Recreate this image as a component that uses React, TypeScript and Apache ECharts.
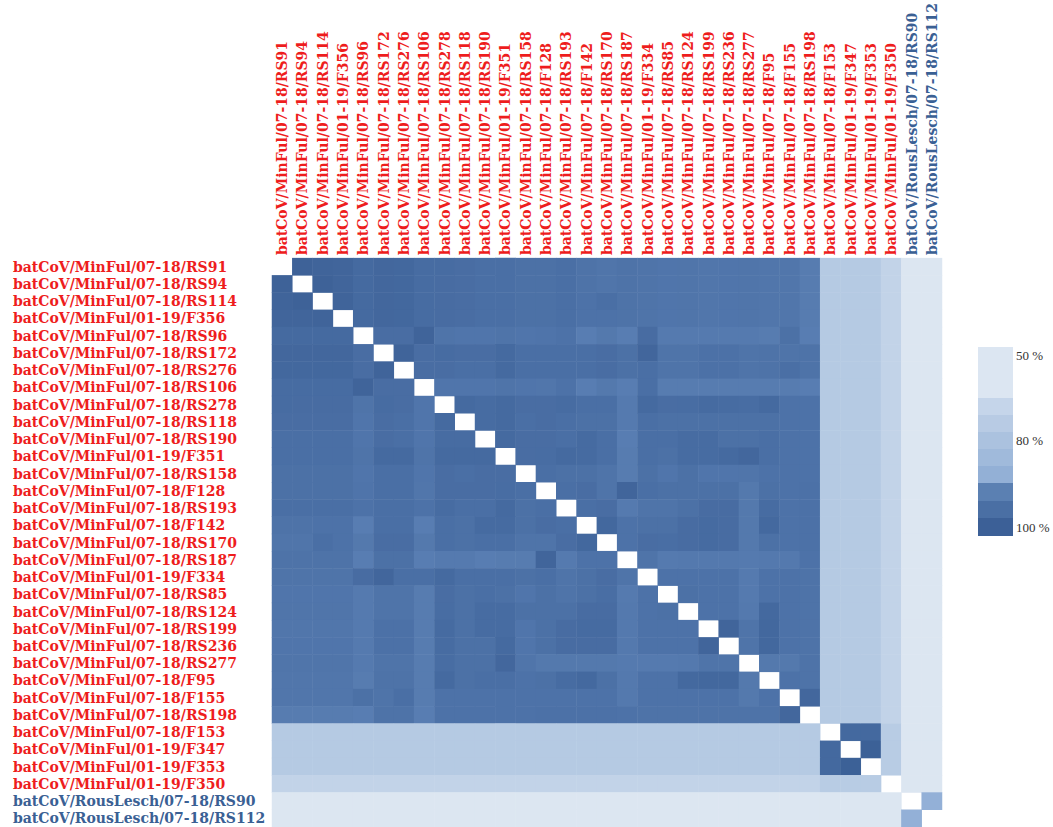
import React, { useEffect, useRef } from "react";
import * as echarts from "echarts";

const categories: string[] = [
  "batCoV/MinFul/07-18/RS91",
  "batCoV/MinFul/07-18/RS94",
  "batCoV/MinFul/07-18/RS114",
  "batCoV/MinFul/01-19/F356",
  "batCoV/MinFul/07-18/RS96",
  "batCoV/MinFul/07-18/RS172",
  "batCoV/MinFul/07-18/RS276",
  "batCoV/MinFul/07-18/RS106",
  "batCoV/MinFul/07-18/RS278",
  "batCoV/MinFul/07-18/RS118",
  "batCoV/MinFul/07-18/RS190",
  "batCoV/MinFul/01-19/F351",
  "batCoV/MinFul/07-18/RS158",
  "batCoV/MinFul/07-18/F128",
  "batCoV/MinFul/07-18/RS193",
  "batCoV/MinFul/07-18/F142",
  "batCoV/MinFul/07-18/RS170",
  "batCoV/MinFul/07-18/RS187",
  "batCoV/MinFul/01-19/F334",
  "batCoV/MinFul/07-18/RS85",
  "batCoV/MinFul/07-18/RS124",
  "batCoV/MinFul/07-18/RS199",
  "batCoV/MinFul/07-18/RS236",
  "batCoV/MinFul/07-18/RS277",
  "batCoV/MinFul/07-18/F95",
  "batCoV/MinFul/07-18/F155",
  "batCoV/MinFul/07-18/RS198",
  "batCoV/MinFul/07-18/F153",
  "batCoV/MinFul/01-19/F347",
  "batCoV/MinFul/01-19/F353",
  "batCoV/MinFul/01-19/F350",
  "batCoV/RousLesch/07-18/RS90",
  "batCoV/RousLesch/07-18/RS112",
];

// Pairwise identity (%), lower triangle: row i holds columns 0..i-1. Diagonal left blank.
const lowerTriangle: number[][] = [
  [],
  [99],
  [98.5, 99],
  [98, 98, 98.5],
  [96.5, 96.5, 96.5, 96.5],
  [97.5, 97.5, 97.5, 97.5, 95.5],
  [97.3, 97.3, 97.3, 97.3, 95.5, 98.5],
  [96, 96, 96, 96, 98.5, 95.5, 95.5],
  [96, 95.8, 95.8, 95.8, 93.5, 96, 95.5, 93],
  [95.5, 95.5, 95.5, 95.5, 93, 95.5, 95, 93, 96.5],
  [95, 95, 95, 95, 93, 95.5, 95, 93, 96, 96],
  [95, 95, 95, 95, 93.5, 96.5, 96.5, 93.5, 96.5, 96.5, 96.5],
  [94.5, 94.5, 94.5, 94.5, 93, 95, 95, 93, 95.5, 95, 95.5, 95.5],
  [94.5, 94.5, 94.5, 94.5, 93.3, 95, 95, 92.8, 95.5, 95.5, 95.5, 95.7, 95],
  [95, 95, 95, 95, 94, 95, 95, 94, 96, 95, 95, 96.7, 94.5, 95],
  [93.8, 93.8, 94, 94, 90.5, 95, 95, 90.5, 95, 94.5, 96.3, 96.3, 94.5, 95.5, 95],
  [93.1, 93.1, 95, 94, 92, 95.5, 95.5, 92, 95, 94.5, 95, 95, 93.5, 93.5, 95.5, 97.3],
  [93.8, 93.8, 93.8, 93.8, 90.5, 94.5, 94.5, 90.5, 91.5, 91.5, 90.5, 91, 91, 98, 91.5, 94, 94],
  [93.5, 93.5, 93.5, 93.5, 95.8, 97.8, 95, 95, 96.5, 95, 95, 95, 94.5, 95, 93.5, 94.5, 95.5, 93.5],
  [93, 93, 93, 93, 91.5, 93.5, 93.5, 91, 95.5, 94.5, 95, 94.5, 93, 94.5, 93.5, 94.5, 95.3, 91.5, 94],
  [93.1, 93.1, 93.1, 93.1, 91.5, 93.5, 93.5, 91, 95.7, 94.5, 96, 96, 94.5, 94.5, 94.5, 95.8, 95.8, 91.8, 94, 94.5],
  [92.8, 92.8, 92.8, 92.8, 91.5, 94.4, 94.4, 91, 96.3, 94.5, 96, 96, 93, 94.5, 95.8, 96.3, 96.3, 91.8, 94, 94, 94],
  [93, 93, 93, 93, 91.5, 94.4, 94.4, 91, 96, 94.5, 94.5, 96.7, 93, 94.5, 95.8, 95.8, 95.8, 91.8, 94, 94, 94, 98],
  [93.1, 93.1, 93.1, 93.1, 91.5, 93.5, 93.5, 91, 95.7, 94.5, 94.5, 97.5, 93.1, 92, 92, 92, 92, 91.5, 91.5, 91.5, 91.8, 93.5, 93.5],
  [92.8, 92.8, 92.8, 92.8, 91, 93.8, 93.8, 91, 96.5, 94.5, 95, 95, 94, 94.5, 96, 97, 94.5, 91.8, 94, 94, 97, 97.3, 97.3, 92],
  [92.8, 92.8, 92.8, 92.8, 94.5, 93.5, 95, 91, 94, 94, 94, 94, 94, 94, 94, 94, 94, 91.8, 94, 94, 94, 94, 94, 92, 94],
  [91, 91, 91, 91, 90.5, 93.8, 93.8, 90.5, 94, 94, 94, 94, 94, 94.4, 94.4, 94.4, 94.4, 94, 93.8, 93.8, 93.8, 93.8, 93.8, 93.8, 93.8, 97.5],
  [76, 76, 76, 76, 76, 76, 76, 76, 76, 76, 76, 76, 76, 76, 76, 76, 76, 76, 76, 76, 76, 76, 76, 76, 76, 76, 76],
  [76, 76, 76, 76, 76, 76, 76, 76, 76, 76, 76, 76, 76, 76, 76, 76, 76, 76, 76, 76, 76, 76, 76, 76, 76, 76, 76, 97],
  [76, 76, 76, 76, 76, 76, 76, 76, 76, 76, 76, 76, 76, 76, 76, 76, 76, 76, 76, 76, 76, 76, 76, 76, 76, 76, 76, 97, 99.5],
  [71.5, 71.5, 71.5, 71.5, 71.5, 71.5, 71.5, 71.5, 71.5, 71.5, 71.5, 71.5, 71.5, 71.5, 71.5, 71.5, 71.5, 71.5, 71.5, 71.5, 71.5, 71.5, 71.5, 71.5, 71.5, 71.5, 71.5, 75, 75, 75],
  [60, 60, 60, 60, 60, 60, 60, 60, 60, 60, 60, 60, 60, 60, 60, 60, 60, 60, 60, 60, 60, 60, 60, 60, 60, 60, 60, 60, 60, 60, 60],
  [60, 60, 60, 60, 60, 60, 60, 60, 60, 60, 60, 60, 60, 60, 60, 60, 60, 60, 60, 60, 60, 60, 60, 60, 60, 60, 60, 60, 60, 60, 60, 85],
];

// Colour scale stops from 50 % to 100 % in 5 % steps
const scaleStops: number[] = [50, 55, 60, 65, 70, 75, 80, 85, 90, 95, 100];
const scaleColors: string[] = [
  "#dce6f1", "#dce6f1", "#dce6f1", "#dce6f1", "#c6d6ea", "#b8cce4",
  "#a9c1df", "#93b0d7", "#5a7fb3", "#4a6fa5", "#3b5f95",
];

// Legend swatches (top to bottom) and tick labels
const legendColors: string[] = [
  "#dce6f2", "#c5d5ea", "#b8cbe4", "#abc2df", "#a0badb",
  "#93b0d6", "#5b80b2", "#4a6fa4", "#3c6097",
];
const legendBounds: number[] = [347, 398, 415, 432, 449, 466, 483, 501, 518, 536];
const legendTicks: string[] = ["50 %", "80 %", "100 %"];
const legendTickY: number[] = [355, 440, 527];

const RED = "#ee1d1d";
const BLUE = "#3a6094";
const FONT = "DejaVu Serif";
const LABEL_SIZE = 14;

export default function App() {
  const ref = useRef<HTMLDivElement>(null);

  useEffect(() => {
    if (!ref.current) return;
    const chart = echarts.init(ref.current, undefined, { renderer: "svg" });

    const data: [number, number, number][] = [];
    lowerTriangle.forEach((row, i) => {
      row.forEach((v, j) => {
        data.push([j, i, v]);
        data.push([i, j, v]);
      });
    });

    const labelColor = (_v: any, idx: number) => (idx >= 31 ? BLUE : RED);

    const graphics: any[] = [];
    legendColors.forEach((c, k) => {
      graphics.push({
        type: "rect",
        shape: { x: 978, y: legendBounds[k], width: 35, height: legendBounds[k + 1] - legendBounds[k] },
        style: { fill: c },
        silent: true,
      });
    });
    legendTicks.forEach((t, k) => {
      graphics.push({
        type: "text",
        x: 1016,
        y: legendTickY[k],
        style: {
          text: t,
          fill: "#333",
          font: `13px "Liberation Serif"`,
          verticalAlign: "middle",
          align: "left",
        },
        silent: true,
      });
    });

    chart.setOption({
      animation: false,
      backgroundColor: "#ffffff",
      grid: { left: 272, top: 257, width: 670, height: 570, containLabel: false },
      xAxis: {
        type: "category",
        position: "top",
        data: categories,
        axisLine: { show: false },
        axisTick: { show: false },
        splitLine: { show: false },
        splitArea: { show: false },
        axisLabel: {
          interval: 0,
          rotate: -90,
          align: "left",
          verticalAlign: "middle",
          margin: 3,
          color: labelColor,
          fontFamily: FONT,
          fontWeight: "bold",
          fontSize: LABEL_SIZE,
        },
      },
      yAxis: {
        type: "category",
        inverse: true,
        data: categories,
        axisLine: { show: false },
        axisTick: { show: false },
        splitLine: { show: false },
        splitArea: { show: false },
        axisLabel: {
          interval: 0,
          align: "left",
          margin: 259,
          color: labelColor,
          fontFamily: FONT,
          fontWeight: "bold",
          fontSize: LABEL_SIZE,
        },
      },
      visualMap: {
        type: "continuous",
        show: false,
        min: scaleStops[0],
        max: scaleStops[scaleStops.length - 1],
        dimension: 2,
        inRange: { color: scaleColors },
      },
      series: [
        {
          type: "heatmap",
          data,
          itemStyle: { borderWidth: 0 },
          emphasis: { disabled: true },
        },
      ],
      graphic: graphics,
    });

    return () => chart.dispose();
  }, []);

  return (
    <div
      ref={ref}
      style={{ position: "absolute", left: 0, top: 0, width: 1053, height: 827 }}
    />
  );
}
